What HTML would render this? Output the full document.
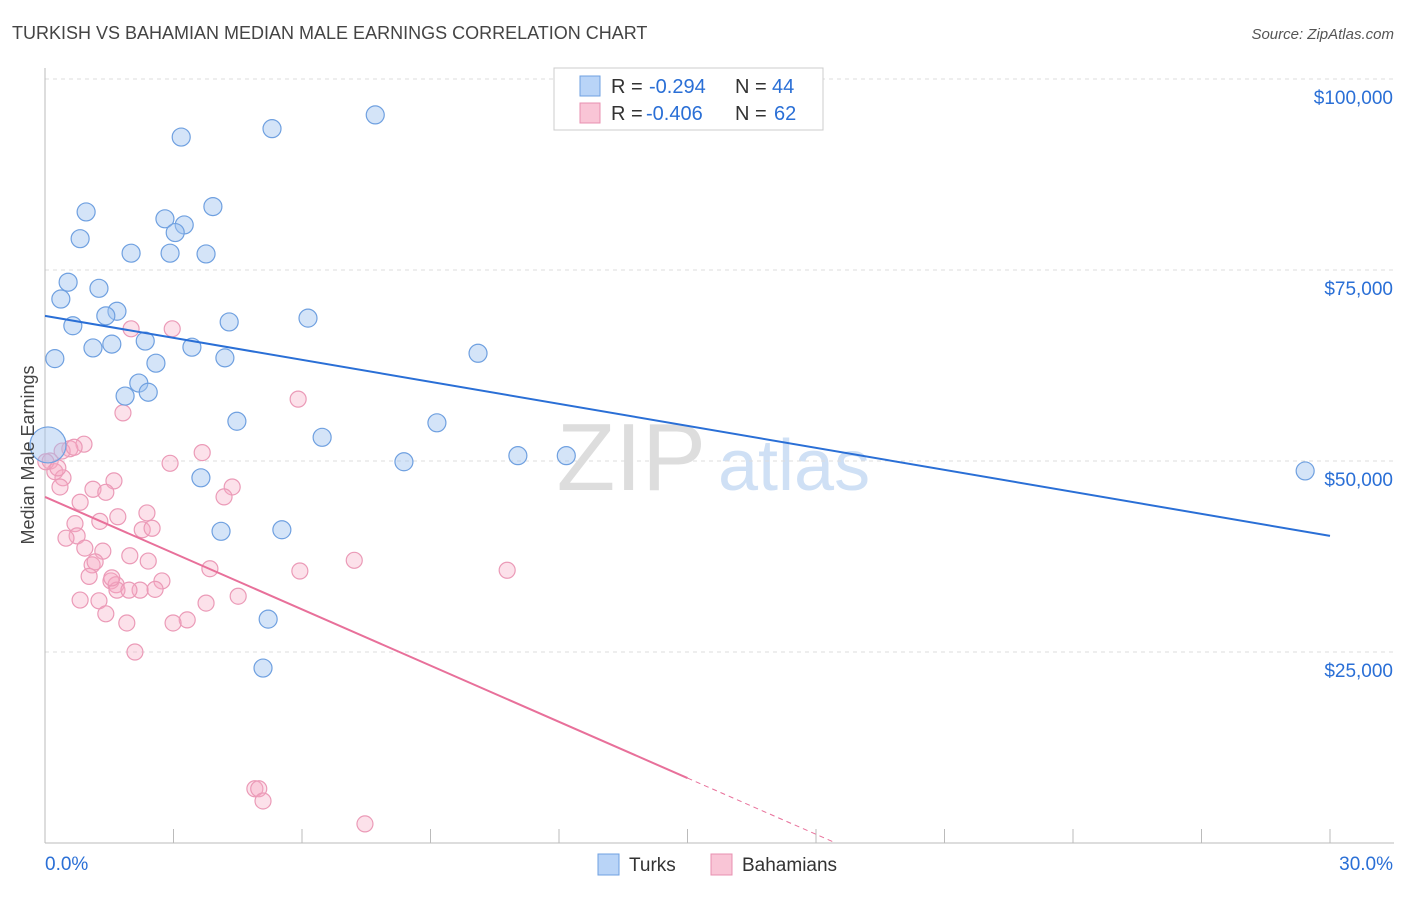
<!DOCTYPE html>
<html><head><meta charset="utf-8"><style>
body{margin:0;background:#fff;font-family:"Liberation Sans",sans-serif;}
svg text{font-family:"Liberation Sans",sans-serif;}
</style></head><body>
<svg id="chart" width="1406" height="892" viewBox="0 0 1406 892">
<text x="12" y="39" font-size="18" fill="#444">TURKISH VS BAHAMIAN MEDIAN MALE EARNINGS CORRELATION CHART</text>
<text x="1394" y="39" font-size="15" fill="#555" font-style="italic" text-anchor="end">Source: ZipAtlas.com</text>
<text x="706" y="490" font-size="96" fill="#ddd" text-anchor="end" font-family="Liberation Serif">ZIP</text>
<text x="718" y="490" font-size="72" fill="#cfe0f5">atlas</text>
<g id="grid"></g><g id="axes"></g><g id="marks"></g>
<text transform="translate(34,455) rotate(-90)" font-size="18" fill="#444" text-anchor="middle">Median Male Earnings</text>
<g>
<rect x="554" y="68" width="269" height="62" fill="#fff" stroke="#ccc"/>
<rect x="580" y="76" width="20" height="20" fill="#b9d4f7" stroke="#6fa0e0"/>
<rect x="580" y="103" width="20" height="20" fill="#f9c5d6" stroke="#e890b0"/>
<text y="93" font-size="20" fill="#333"><tspan x="611">R =</tspan><tspan x="649" fill="#2a6fd6">-0.294</tspan><tspan x="735">N =</tspan><tspan x="772" fill="#2a6fd6">44</tspan></text>
<text y="120" font-size="20" fill="#333"><tspan x="611">R =</tspan><tspan x="646" fill="#2a6fd6">-0.406</tspan><tspan x="735">N =</tspan><tspan x="774" fill="#2a6fd6">62</tspan></text>
</g>
<g>
<rect x="598" y="854" width="21" height="21" fill="#b9d4f7" stroke="#6fa0e0"/>
<text x="629" y="871" font-size="19" fill="#333">Turks</text>
<rect x="711" y="854" width="21" height="21" fill="#f9c5d6" stroke="#e890b0"/>
<text x="742" y="871" font-size="19" fill="#333">Bahamians</text>
</g>
</svg>
<script>
const yTicks=[25000,50000,75000,100000];
const yTickLabels=["$25,000","$50,000","$75,000","$100,000"];
const turksX=[7.71,5.30,3.18,0.96,3.92,2.80,3.25,3.04,0.82,2.01,2.92,3.76,0.54,1.26,0.37,1.68,1.42,6.14,4.30,0.65,1.56,2.34,1.12,3.43,10.11,0.23,4.20,2.59,2.19,1.87,2.41,4.48,9.15,6.47,0.07,11.04,12.17,8.38,29.42,3.64,4.11,5.53,5.21,5.09];
const turksY=[95.3,93.5,92.4,82.6,83.3,81.7,80.9,79.9,79.1,77.2,77.2,77.1,73.4,72.6,71.2,69.6,69.0,68.7,68.2,67.7,65.3,65.7,64.8,64.9,64.1,63.4,63.5,62.8,60.2,58.5,59.0,55.2,55.0,53.1,52.1,50.7,50.7,49.9,48.7,47.8,40.8,41.0,29.3,22.9];
const bahX=[2.01,2.97,5.91,1.82,0.91,0.58,0.40,3.67,0.12,2.92,0.23,0.42,0.35,1.61,4.37,1.12,1.42,4.18,0.82,2.38,1.70,1.28,0.70,2.27,0.75,0.49,0.93,1.35,1.98,2.41,7.22,1.10,3.85,5.95,10.79,1.03,2.73,1.54,1.66,1.68,2.22,1.96,2.57,4.51,1.26,3.76,1.42,3.32,1.91,2.99,2.10,4.90,4.99,5.09,7.47,0.02,0.30,0.68,1.17,1.56,0.82,2.50];
const bahY=[67.3,67.3,58.1,56.3,52.2,51.6,51.3,51.1,50.0,49.7,48.6,47.8,46.6,47.4,46.6,46.3,45.9,45.3,44.6,43.2,42.7,42.1,41.8,41.0,40.2,39.9,38.6,38.2,37.6,36.9,37.0,36.4,35.9,35.6,35.7,34.9,34.3,34.3,33.8,33.1,33.1,33.1,33.2,32.3,31.7,31.4,30.0,29.2,28.8,28.8,25.0,7.1,7.1,5.5,2.5,49.9,49.1,51.8,36.8,34.7,31.8,41.2];
const turksTrend=[69.0,40.2];
const bahTrend=[45.3,8.5];
const NS="http://www.w3.org/2000/svg";
const X0=45,X1=1330,Y0=843,YTOP=79;
const sx=v=>X0+(v/30)*(X1-X0);
const sy=k=>Y0-(k/100)*(Y0-YTOP);
function mk(tag,attrs,parent){const e=document.createElementNS(NS,tag);for(const k in attrs)e.setAttribute(k,attrs[k]);parent.appendChild(e);return e;}
const grid=document.getElementById('grid'),axes=document.getElementById('axes'),marks=document.getElementById('marks');
yTicks.forEach((t,i)=>{
 const l=mk('line',{x1:X0,x2:1394,y1:sy(t/1000),y2:sy(t/1000),stroke:'#ddd','stroke-dasharray':'4,4'},grid);
 
 
 const tx=mk('text',{x:1393,y:sy(t/1000)+25,'font-size':19,fill:'#2a6fd6','text-anchor':'end'},axes);
 tx.textContent=yTickLabels[i];
 
 
});
mk('line',{x1:X0,x2:X0,y1:68,y2:Y0,stroke:'#bbb'},axes);
mk('line',{x1:X0,x2:1394,y1:Y0,y2:Y0,stroke:'#bbb'},axes);
for(let i=0;i<=10;i++){
 const t=mk('line',{x1:sx(i*3),x2:sx(i*3),y1:829,y2:Y0,stroke:'#bbb'},axes);
 
 
}
const xl=mk('text',{x:45,y:870,'font-size':19,fill:'#2a6fd6'},axes);xl.textContent='0.0%';


const xr=mk('text',{x:1393,y:870,'font-size':19,fill:'#2a6fd6','text-anchor':'end'},axes);xr.textContent='30.0%';


bahX.forEach((x,i)=>{
 const c=mk('circle',{cx:sx(x),cy:sy(bahY[i]),r:8,fill:'rgba(245,170,195,0.35)',stroke:'#eb9ab7','stroke-width':1.2},marks);
 
 
});
turksX.forEach((x,i)=>{
 const c=mk('circle',{cx:sx(x),cy:sy(turksY[i]),r:(i==34?18:9),fill:'rgba(160,196,240,0.45)',stroke:'#6fa0e0','stroke-width':1.2},marks);
 
 
});
const tl=mk('line',{x1:sx(0),y1:sy(turksTrend[0]),x2:sx(30),y2:sy(turksTrend[1]),stroke:'#2a6fd6','stroke-width':2},marks);


const bl=mk('line',{x1:sx(0),y1:sy(bahTrend[0]),x2:sx(15),y2:sy(bahTrend[1]),stroke:'#e8709a','stroke-width':2},marks);


const slope=(bahTrend[1]-bahTrend[0])/15;const xz=-bahTrend[0]/slope;
const bd=mk('line',{x1:sx(15),y1:sy(bahTrend[1]),x2:sx(xz),y2:sy(0),stroke:'#e8709a','stroke-width':1,'stroke-dasharray':'5,4'},marks);


</script>
</body></html>
